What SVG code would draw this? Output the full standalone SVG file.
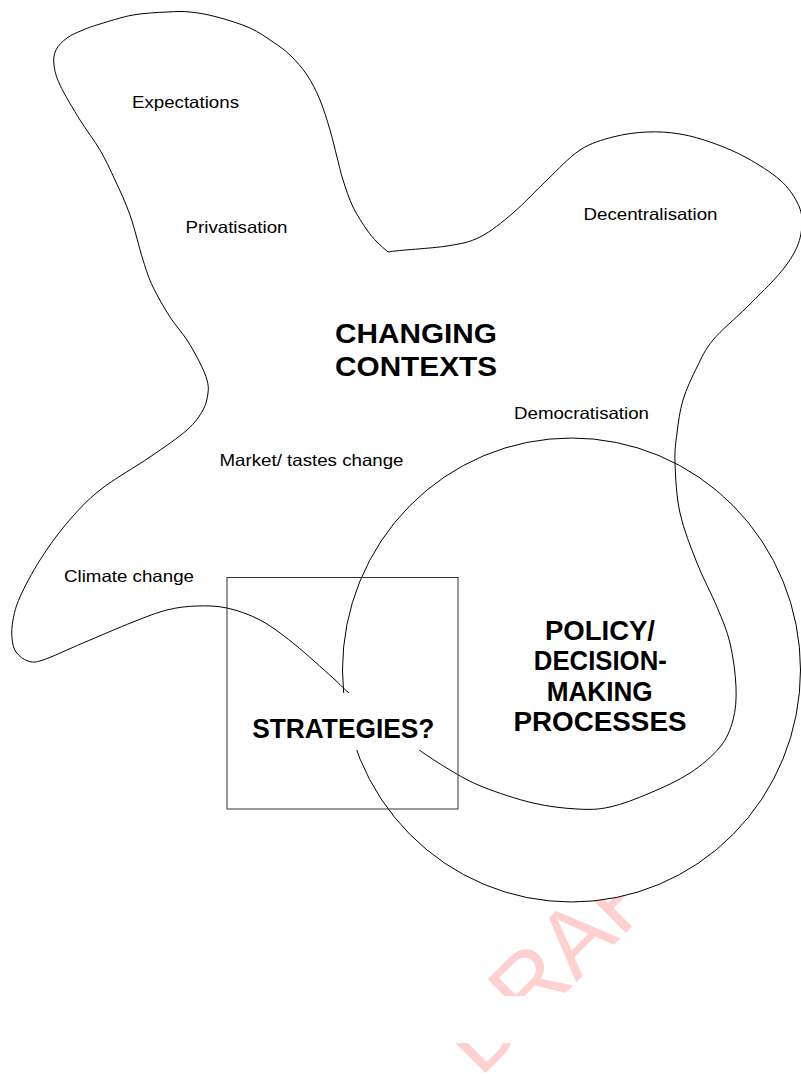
<svg xmlns="http://www.w3.org/2000/svg" width="801" height="1075" viewBox="0 0 801 1075">
  <style>
    .line { fill: none; stroke: #000; stroke-width: 1; }
    .small { font-family: "Liberation Sans", Arial, sans-serif; font-size: 16.5px; fill: #000; }
    .big { font-family: "Liberation Sans", Arial, sans-serif; font-size: 27px; font-weight: bold; fill: #000; text-anchor: middle; }
    .mark { font-family: "Liberation Sans", Arial, sans-serif; font-size: 94px; fill: #ffd0d0; }
  </style>
  <defs>
    <!-- the watermark is masked by a blank band across the page foot -->
    <clipPath id="mark-clip">
      <rect x="0" y="0" width="660" height="996"/>
      <rect x="0" y="1043" width="801" height="32"/>
    </clipPath>
  </defs>
  <rect width="801" height="1075" fill="#fff"/>

  <!-- faint watermark, sitting behind every shape -->
  <g id="watermark" clip-path="url(#mark-clip)">
    <text class="mark" x="0" y="0" transform="translate(479.9,1078.6) rotate(-45)">DRAFT</text>
  </g>

  <!-- policy / decision-making circle (white fill hides the watermark) -->
  <g id="policy">
    <ellipse cx="571.5" cy="670" rx="229" ry="232" fill="#fff" stroke="#000" stroke-width="1"/>
  </g>

  <!-- changing contexts blob -->
  <g id="contexts">
    <path class="line" d="M388,252 C398,250 431.7,248.5 447,246
      S469,242.5 480,237 S501.8,222.5 513,213 S535.8,190.5 547,180 S569,157.2 580,150
      S601.8,140 613,137 S635.8,132.5 647,132 S669,132.2 680,134 S701.8,139 713,143
      S735.8,151.8 747,158 S771.7,172.7 780,180 S793.3,195 797,202 S802,214.5 802,222
      S800.7,238.5 797,247 S788.3,263 780,273 S758.2,295.8 747,307 S721.3,330 713,340
      S702,357 697,367 S686.3,389 683,400 S678.3,422.5 677,433 S674.5,449.7 675,463
      S676.3,496.3 680,513 S690.8,547.3 697,563 S711.5,593.7 717,607 S726.8,629.7 730,643
      S735.5,674.2 736,687 S735.7,710 733,720 S727.2,738.2 720,747 S701.7,765.3 690,773
      S663.3,787.3 650,793 S622.2,804.3 610,807 S589.8,809.7 577,809 S548.7,806.7 533,803
      S496.8,792.5 483,787 S461.3,776.7 450,770 S426.3,755.3 415,747 S393,729 382,720
      S357.2,700 349,693 S342.3,686.3 333,678 S305.2,652.7 293,643 S271,625.8 260,620
      S237.5,610.3 227,608 S207,605.7 197,606 S177.7,607.3 167,610 S147,616.5 133,622
      S98,636.7 83,643 S52.2,657 43,660 S32.5,662.3 28,661 S18.7,655.8 16,652
      S12.5,643.3 12,638 S11.7,626.8 13,620 S15.5,607 20,597 S32.2,572.3 40,560
      S57,534.7 67,523 S86.2,501 100,490 S135.5,467 150,457 S178.2,437.8 187,430
      S199.5,416.2 203,410 S207.3,398 208,393 S208.3,385 207,380 S203.3,369.7 200,363
      S192,347.7 187,340 S175.7,325.8 170,317 S157.5,296.5 153,287 S146.8,272 143,260
      S134.7,228.3 130,215 S120,190.8 115,180 S105.8,160 100,150 S86.7,130.8 80,120
      S64.3,94.2 60,85 S54.7,70.8 54,65 S53.8,54.5 56,50 S62.5,41.3 67,38
      S77.5,32.3 83,30 S91.7,26.5 100,24 S121.8,17 133,15 S157.5,12.5 167,12
      S181.7,11.2 190,12 S207,14.3 217,17 S240.7,23.8 250,28 S266.3,37.5 273,42
      S284.3,49.5 290,55 S302,67.5 307,75 S316.2,90.8 320,100 S327.2,120.5 330,130
      S334.8,148.7 337,157 S340.3,171.7 343,180 S349,198.7 353,207 S363,224.2 367,230
      S373.5,238.3 377,242 S384.3,248.7 388,252 Z"/>
  </g>

  <!-- strategies box; the label sits on a white patch that breaks the curves -->
  <g id="strategies">
    <rect x="252" y="693" width="188" height="57" fill="#fff"/>
    <rect x="227" y="577.5" width="231" height="231.5" fill="none" stroke="#333" stroke-width="1"/>
    <text class="big" x="343.3" y="738.3" textLength="182" lengthAdjust="spacingAndGlyphs">STRATEGIES?</text>
  </g>

  <!-- heading of the blob -->
  <g id="contexts-title">
    <text class="big" x="416" y="343" textLength="162" lengthAdjust="spacingAndGlyphs">CHANGING</text>
    <text class="big" x="416" y="375.5" textLength="162" lengthAdjust="spacingAndGlyphs">CONTEXTS</text>
  </g>

  <!-- heading of the circle -->
  <g id="policy-title">
    <text class="big" x="600" y="639.5" textLength="110" lengthAdjust="spacingAndGlyphs">POLICY/</text>
    <text class="big" x="600.3" y="670.3" textLength="133" lengthAdjust="spacingAndGlyphs">DECISION-</text>
    <text class="big" x="599.7" y="701" textLength="106" lengthAdjust="spacingAndGlyphs">MAKING</text>
    <text class="big" x="600" y="731" textLength="173" lengthAdjust="spacingAndGlyphs">PROCESSES</text>
  </g>

  <!-- context factors -->
  <g id="factors">
    <text id="expectations" class="small" x="132" y="108" textLength="107" lengthAdjust="spacingAndGlyphs">Expectations</text>
    <text id="privatisation" class="small" x="185.5" y="233" textLength="102" lengthAdjust="spacingAndGlyphs">Privatisation</text>
    <text id="decentralisation" class="small" x="583.5" y="220" textLength="134" lengthAdjust="spacingAndGlyphs">Decentralisation</text>
    <text id="democratisation" class="small" x="514" y="419" textLength="135" lengthAdjust="spacingAndGlyphs">Democratisation</text>
    <text id="market" class="small" x="219.5" y="466" textLength="184" lengthAdjust="spacingAndGlyphs">Market/ tastes change</text>
    <text id="climate" class="small" x="64" y="582" textLength="130" lengthAdjust="spacingAndGlyphs">Climate change</text>
  </g>
</svg>
